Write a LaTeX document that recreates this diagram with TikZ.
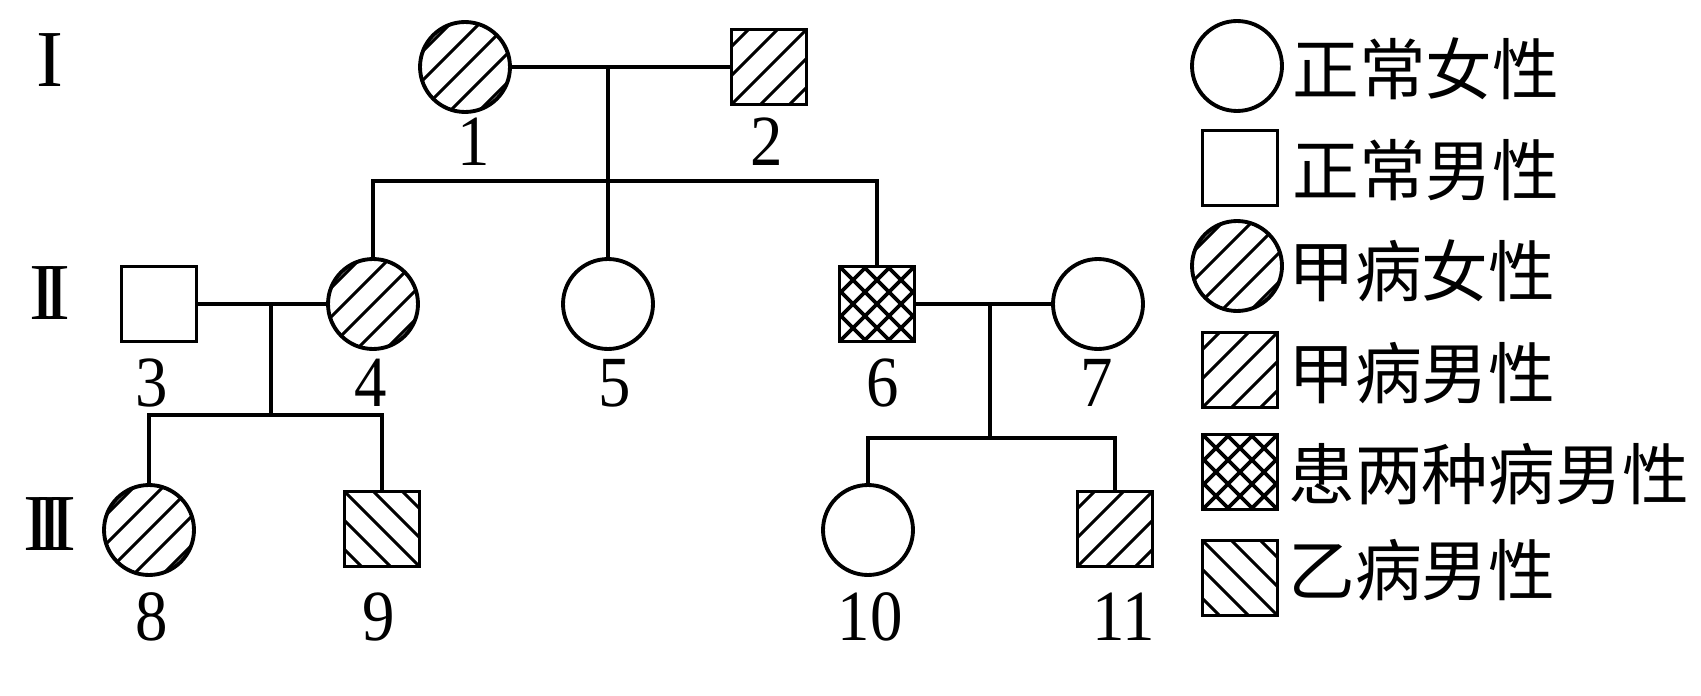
\documentclass[tikz,border=0pt]{standalone}
\usepackage{fontspec}
\setmainfont{Liberation Serif}
\newfontfamily\numfont[FakeStretch=0.9]{Liberation Serif}
\newfontfamily\cjk{Noto Sans CJK SC}
\usetikzlibrary{calc}
\tikzset{
  fem/.style={circle,draw,line width=2.2pt,minimum size=1.8cm,inner sep=0pt},
  mal/.style={rectangle,draw,line width=2.2pt,minimum size=1.5cm,inner sep=0pt},
  hatchA/.style={path picture={\foreach \k in {-4,...,4}{\draw[line width=1.7pt] ($(path picture bounding box.center)+(\k*29,0)$) ++(-70,70) -- ++(140,-140);}}},
  hatchB/.style={path picture={\foreach \k in {-4,...,4}{\draw[line width=1.7pt] ($(path picture bounding box.center)+(\k*29,0)$) ++(-70,-70) -- ++(140,140);}}},
  crossh/.style={path picture={\foreach \k in {-5,...,5}{\draw[line width=2.2pt] ($(path picture bounding box.center)+(\k*24,0)$) ++(-70,70) -- ++(140,-140); \draw[line width=2.2pt] ($(path picture bounding box.center)+(\k*24,0)$) ++(-70,-70) -- ++(140,140);}}},
  num/.style={font=\numfont\fontsize{41}{41}\selectfont,inner sep=0pt},
  gen/.style={font=\fontsize{46}{46}\selectfont,inner sep=0pt},
  leg/.style={font=\cjk\fontsize{38}{38}\selectfont,inner sep=0pt,anchor=west},
  conn/.style={line width=2.1pt}
}
\begin{document}
\begin{tikzpicture}[x=0.02cm,y=-0.02cm]
\useasboundingbox (0,0) rectangle (1701,696);
% generation labels
\node[gen] (g1) at (50,60) {I};
\node[gen] (g2) at (50,293) {I\kern-0.17emI};
\node[gen] (g3) at (50,524) {I\kern-0.17emI\kern-0.17emI};
% generation I
\node[fem,hatchA] (n1) at (465,67) {};
\node[mal,hatchA] (n2) at (769,67) {};
% generation II
\node[mal] (n3) at (159,304) {};
\node[fem,hatchA] (n4) at (373,304) {};
\node[fem] (n5) at (608,304) {};
\node[mal,crossh] (n6) at (877,304) {};
\node[fem] (n7) at (1098,304) {};
% generation III
\node[fem,hatchA] (n8) at (149,530) {};
\node[mal,hatchB] (n9) at (382,529) {};
\node[fem] (n10) at (868,530) {};
\node[mal,hatchA] (n11) at (1115,529) {};
% numbers
\node[num] (l1) at (474,142) {1};
\node[num] (l2) at (767,142) {2};
\node[num] (l3) at (152,383) {3};
\node[num] (l4) at (371,383) {4};
\node[num] (l5) at (615,383) {5};
\node[num] (l6) at (883,383) {6};
\node[num] (l7) at (1097,383) {7};
\node[num] (l8) at (152,617) {8};
\node[num] (l9) at (379,617) {9};
\node[num] (l10) at (870,617) {10};
\node[num] (l11) at (1124,617) {11};
% connectors
\coordinate (m12) at (608,67);
\coordinate (s1) at (608,181);
\draw[conn] (n1) -- (n2);
\draw[conn] (m12) -- (s1);
\draw[conn] (n4.north) |- (s1) -| (n6.north);
\draw[conn] (s1) -- (n5.north);
\coordinate (m34) at (271,304);
\coordinate (s2) at (271,415);
\draw[conn] (n3) -- (n4);
\draw[conn] (m34) -- (s2);
\draw[conn] (n8.north) |- (s2) -| (n9.north);
\coordinate (m67) at (990,304);
\coordinate (s3) at (990,438);
\draw[conn] (n6) -- (n7);
\draw[conn] (m67) -- (s3);
\draw[conn] (n10.north) |- (s3) -| (n11.north);
% legend
\node[fem] (k1) at (1237,66) {};
\node[mal] (k2) at (1240,168) {};
\node[fem,hatchA] (k3) at (1237,266) {};
\node[mal,hatchA] (k4) at (1240,370) {};
\node[mal,crossh] (k5) at (1240,472) {};
\node[mal,hatchB] (k6) at (1240,578) {};
\node[leg] (t1) at (1292,69) {正常女性};
\node[leg] (t2) at (1292,170) {正常男性};
\node[leg] (t3) at (1288,271) {甲病女性};
\node[leg] (t4) at (1288,373) {甲病男性};
\node[leg] (t5) at (1288,474) {患两种病男性};
\node[leg] (t6) at (1288,570) {乙病男性};
\end{tikzpicture}
\end{document}
